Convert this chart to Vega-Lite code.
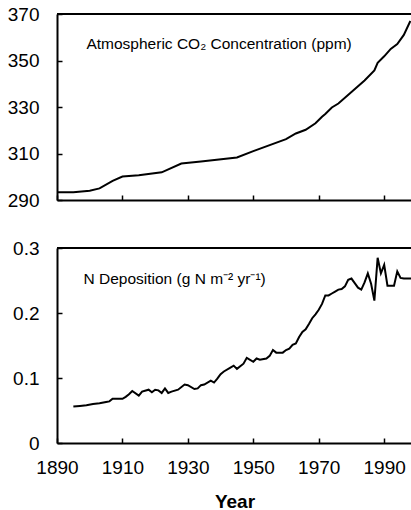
{
  "$schema": "https://vega.github.io/schema/vega-lite/v6.json",
  "padding": {"left": 7, "top": 5, "right": 0, "bottom": 0},
  "spacing": 29,
  "config": {
    "view": {"stroke": null},
    "font": "Liberation Sans",
    "axis": {
      "domainColor": "black", "domainWidth": 2,
      "tickColor": "black", "tickWidth": 1.5,
      "labelColor": "black", "labelFont": "Liberation Sans", "labelFontSize": 19,
      "labelFlush": false, "grid": false,
      "titleFont": "Liberation Sans", "titleColor": "black"
    }
  },
  "datasets": {
    "co2": [
      {"year": 1890, "co2": 293.3}, {"year": 1895, "co2": 293.3}, {"year": 1900, "co2": 294.0},
      {"year": 1903, "co2": 295.0}, {"year": 1907, "co2": 298.2}, {"year": 1910, "co2": 300.1},
      {"year": 1915, "co2": 300.6}, {"year": 1922, "co2": 301.9}, {"year": 1928, "co2": 305.7},
      {"year": 1934, "co2": 306.6}, {"year": 1945, "co2": 308.3}, {"year": 1950, "co2": 311.0},
      {"year": 1960, "co2": 316.2}, {"year": 1963, "co2": 318.6}, {"year": 1966, "co2": 320.2},
      {"year": 1969, "co2": 323.0}, {"year": 1971, "co2": 325.8}, {"year": 1972, "co2": 327.0},
      {"year": 1974, "co2": 329.8}, {"year": 1976, "co2": 331.5}, {"year": 1980, "co2": 336.4},
      {"year": 1984, "co2": 341.4}, {"year": 1987, "co2": 345.7}, {"year": 1988, "co2": 349.0},
      {"year": 1990, "co2": 351.8}, {"year": 1992, "co2": 355.0}, {"year": 1994, "co2": 357.1},
      {"year": 1996, "co2": 361.0}, {"year": 1998, "co2": 367.0}
    ],
    "ndep": [
      {"year": 1895, "n": 0.056}, {"year": 1897, "n": 0.057}, {"year": 1899, "n": 0.058},
      {"year": 1901, "n": 0.060}, {"year": 1903, "n": 0.061}, {"year": 1905, "n": 0.063},
      {"year": 1906, "n": 0.064}, {"year": 1907, "n": 0.068}, {"year": 1909, "n": 0.068},
      {"year": 1910, "n": 0.068}, {"year": 1911, "n": 0.071}, {"year": 1912, "n": 0.075},
      {"year": 1913, "n": 0.080}, {"year": 1915, "n": 0.073}, {"year": 1916, "n": 0.079},
      {"year": 1918, "n": 0.082}, {"year": 1919, "n": 0.078}, {"year": 1920, "n": 0.082},
      {"year": 1921, "n": 0.081}, {"year": 1922, "n": 0.077}, {"year": 1923, "n": 0.084},
      {"year": 1924, "n": 0.077}, {"year": 1925, "n": 0.079}, {"year": 1927, "n": 0.082},
      {"year": 1929, "n": 0.090}, {"year": 1930, "n": 0.089}, {"year": 1932, "n": 0.083},
      {"year": 1933, "n": 0.084}, {"year": 1934, "n": 0.089}, {"year": 1935, "n": 0.090},
      {"year": 1937, "n": 0.096}, {"year": 1938, "n": 0.093}, {"year": 1939, "n": 0.099},
      {"year": 1940, "n": 0.106}, {"year": 1941, "n": 0.110}, {"year": 1943, "n": 0.116},
      {"year": 1944, "n": 0.119}, {"year": 1945, "n": 0.114}, {"year": 1947, "n": 0.122},
      {"year": 1948, "n": 0.131}, {"year": 1950, "n": 0.125}, {"year": 1951, "n": 0.130},
      {"year": 1952, "n": 0.128}, {"year": 1954, "n": 0.130}, {"year": 1955, "n": 0.134},
      {"year": 1956, "n": 0.143}, {"year": 1957, "n": 0.139}, {"year": 1959, "n": 0.139},
      {"year": 1960, "n": 0.143}, {"year": 1961, "n": 0.145}, {"year": 1962, "n": 0.151},
      {"year": 1963, "n": 0.153}, {"year": 1964, "n": 0.163}, {"year": 1965, "n": 0.171},
      {"year": 1966, "n": 0.175}, {"year": 1967, "n": 0.183}, {"year": 1968, "n": 0.192},
      {"year": 1969, "n": 0.198}, {"year": 1970, "n": 0.205}, {"year": 1971, "n": 0.214},
      {"year": 1972, "n": 0.227}, {"year": 1973, "n": 0.227}, {"year": 1974, "n": 0.230},
      {"year": 1975, "n": 0.233}, {"year": 1976, "n": 0.236}, {"year": 1977, "n": 0.237},
      {"year": 1978, "n": 0.241}, {"year": 1979, "n": 0.251}, {"year": 1980, "n": 0.253},
      {"year": 1981, "n": 0.246}, {"year": 1982, "n": 0.239}, {"year": 1983, "n": 0.236},
      {"year": 1984, "n": 0.247}, {"year": 1985, "n": 0.261}, {"year": 1986, "n": 0.245},
      {"year": 1987, "n": 0.219}, {"year": 1988, "n": 0.285}, {"year": 1989, "n": 0.261},
      {"year": 1990, "n": 0.274}, {"year": 1991, "n": 0.242}, {"year": 1992, "n": 0.242},
      {"year": 1993, "n": 0.242}, {"year": 1994, "n": 0.264}, {"year": 1995, "n": 0.254},
      {"year": 1996, "n": 0.253}, {"year": 1997, "n": 0.253}, {"year": 1998, "n": 0.253},
      {"year": 1998.5, "n": 0.253}
    ]
  },
  "vconcat": [
    {
      "width": 355,
      "height": 186,
      "layer": [
        {
          "data": {"name": "co2"},
          "mark": {"type": "line", "color": "black", "strokeWidth": 2},
          "encoding": {
            "x": {"field": "year", "type": "quantitative",
                  "scale": {"domain": [1890, 1998.5], "nice": false, "zero": false},
                  "axis": {"labels": false, "title": null, "tickSize": -5, "values": [1890, 1910, 1930, 1950, 1970, 1990]}},
            "y": {"field": "co2", "type": "quantitative",
                  "scale": {"domain": [290, 370], "nice": false, "zero": false},
                  "axis": {"title": null, "tickSize": -5, "labelPadding": 23, "values": [290, 310, 330, 350, 370]}}
          }
        },
        {
          "data": {"values": [{}]},
          "mark": {"type": "rule", "color": "black", "strokeWidth": 2},
          "encoding": {"y": {"datum": 370}}
        },
        {
          "data": {"values": [{}]},
          "mark": {"type": "text", "text": "Atmospheric CO₂ Concentration (ppm)", "align": "left", "baseline": "middle", "fontSize": 15.5, "font": "Liberation Sans", "color": "black"},
          "encoding": {"x": {"datum": 1899}, "y": {"datum": 357.3}}
        }
      ]
    },
    {
      "width": 355,
      "height": 195,
      "layer": [
        {
          "data": {"name": "ndep"},
          "mark": {"type": "line", "color": "black", "strokeWidth": 2},
          "encoding": {
            "x": {"field": "year", "type": "quantitative",
                  "scale": {"domain": [1890, 1998.5], "nice": false, "zero": false},
                  "axis": {"title": "Year", "titleFontSize": 19, "titleFontWeight": "bold", "titlePadding": 15,
                           "tickSize": -5, "labelPadding": 20,
                           "values": [1890, 1910, 1930, 1950, 1970, 1990], "format": "d"}},
            "y": {"field": "n", "type": "quantitative",
                  "scale": {"domain": [0, 0.3], "nice": false},
                  "axis": {"title": null, "tickSize": -5, "labelPadding": 23, "values": [0, 0.1, 0.2, 0.3],
                           "labelExpr": "datum.value == 0 ? '0' : format(datum.value, '.1f')"}}
          }
        },
        {
          "data": {"values": [{}]},
          "mark": {"type": "rule", "color": "black", "strokeWidth": 2},
          "encoding": {"y": {"datum": 0.3}}
        },
        {
          "data": {"values": [{}]},
          "mark": {"type": "text", "text": "N Deposition (g N m⁻² yr⁻¹)", "align": "left", "baseline": "middle", "fontSize": 15.5, "font": "Liberation Sans", "color": "black"},
          "encoding": {"x": {"datum": 1898.1}, "y": {"datum": 0.2516}}
        }
      ]
    }
  ]
}
